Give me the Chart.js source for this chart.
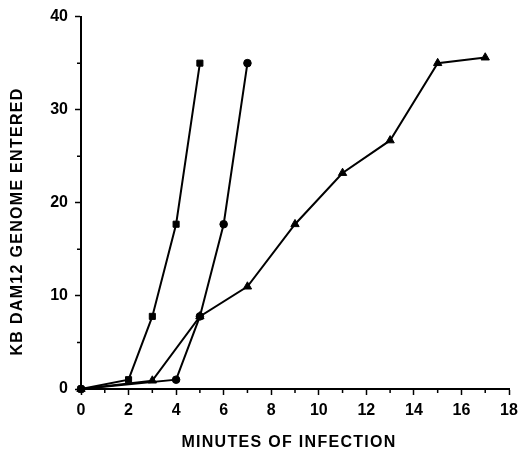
<!DOCTYPE html>
<html>
<head>
<meta charset="utf-8">
<script src="https://cdn.jsdelivr.net/npm/chart.js@4"></script>
<style>
  html, body { margin: 0; padding: 0; background: #fff; }
  #wrap { width: 518px; height: 452px; position: relative; }
</style>
</head>
<body>
<div id="wrap"><canvas id="c" width="518" height="452"></canvas></div>
<script>
// Data
const squareX = [0, 2, 3, 4, 5];
const squareY = [0, 1.0, 7.8, 17.7, 35.0];
const circleX = [0, 4, 5, 6, 7];
const circleY = [0, 1.0, 7.8, 17.7, 35.0];
const triangleX = [0, 3, 5, 7, 9, 11, 13, 15, 17];
const triangleY = [0, 0.9, 7.8, 11.0, 17.7, 23.2, 26.7, 35.0, 35.6];
const xMinorTicks = [1, 3, 5, 7, 9, 11, 13, 15, 17];
const yMinorTicks = [5, 15, 25, 35];
const xTitle = 'MINUTES OF INFECTION';
const yTitle = 'KB DAM12 GENOME ENTERED';

const pts = (xs, ys) => xs.map((x, i) => ({ x, y: ys[i] }));
const FONT = "'Liberation Sans', Arial, Helvetica, sans-serif";

const extras = {
  id: 'extras',
  afterDraw(chart) {
    const ctx = chart.ctx;
    const xs = chart.scales.x, ys = chart.scales.y;
    ctx.save();
    // minor ticks
    ctx.strokeStyle = '#000';
    ctx.lineWidth = 1.5;
    ctx.beginPath();
    xMinorTicks.forEach(v => {
      const px = xs.getPixelForValue(v);
      ctx.moveTo(px, xs.top);
      ctx.lineTo(px, xs.top + 4);
    });
    yMinorTicks.forEach(v => {
      const py = ys.getPixelForValue(v);
      ctx.moveTo(ys.right, py);
      ctx.lineTo(ys.right - 4, py);
    });
    ctx.stroke();
    // axis titles
    ctx.fillStyle = '#000';
    ctx.font = "bold 16px " + FONT;
    ctx.letterSpacing = '1.3px';
    ctx.textAlign = 'center';
    ctx.textBaseline = 'middle';
    ctx.fillText(xTitle, xs.getPixelForValue(8.75), 443);
    ctx.translate(18, ys.getPixelForValue(18));
    ctx.rotate(-Math.PI / 2);
    ctx.fillText(yTitle, 0, 0);
    ctx.restore();
  }
};

const ds = (data, style, r) => ({
  data, borderColor: '#000', backgroundColor: '#000', borderWidth: 2,
  pointStyle: style, pointRadius: r, pointHoverRadius: r, pointBorderWidth: 1,
  showLine: true, tension: 0, clip: false
});

new Chart(document.getElementById('c'), {
  type: 'scatter',
  data: {
    datasets: [
      ds(pts(squareX, squareY), 'rect', 4.3),
      ds(pts(circleX, circleY), 'circle', 3.8),
      ds(pts(triangleX, triangleY), 'triangle', 4.8)
    ]
  },
  options: {
    responsive: false,
    animation: false,
    devicePixelRatio: 1,
    layout: { padding: { left: 0, right: 0, top: 16, bottom: 0 } },
    plugins: { legend: { display: false }, tooltip: { enabled: false } },
    scales: {
      x: {
        type: 'linear', min: 0, max: 18,
        border: { color: '#000', width: 2 },
        grid: { drawOnChartArea: false, drawTicks: true, tickLength: 6, tickColor: '#000', tickWidth: 1.5 },
        ticks: { stepSize: 2, color: '#000', font: { family: FONT, size: 16, weight: 'bold' }, padding: 6, maxRotation: 0 },
        afterFit(s) { s.height = 452 - 389; s.paddingRight = 9; }
      },
      y: {
        type: 'linear', min: 0, max: 40,
        border: { color: '#000', width: 2 },
        grid: { drawOnChartArea: false, drawTicks: true, tickLength: 6, tickColor: '#000', tickWidth: 1.5 },
        ticks: { stepSize: 10, color: '#000', font: { family: FONT, size: 16, weight: 'bold' }, padding: 7 },
        afterFit(s) { s.width = 81; }
      }
    }
  },
  plugins: [extras]
});
</script>
</body>
</html>
